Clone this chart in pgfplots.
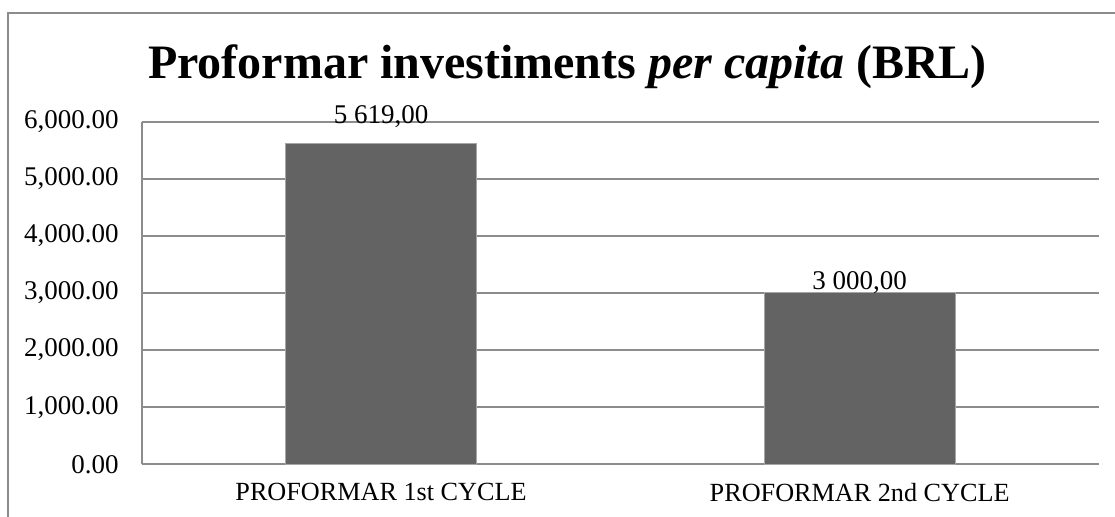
\documentclass[border=0pt]{standalone}
\usepackage{fontspec}
\setmainfont{Liberation Serif}
\usepackage{pgfplots}
\pgfplotsset{compat=1.18}
\definecolor{barfill}{HTML}{636363}
\definecolor{baredge}{HTML}{A6A6A6}
\definecolor{gridc}{HTML}{8C8C8C}
\begin{document}
\begin{tikzpicture}
\useasboundingbox (0,0) rectangle (557.5pt,-258.5pt);
\clip (0,0) rectangle (557.5pt,-258.5pt);
\fill[white] (0,0) rectangle (557.5pt,-258.5pt);
\draw[gridc, line width=0.8pt] (4pt,-300pt) -- (4pt,-6.5pt) -- (600pt,-6.5pt);
\node[anchor=base, font=\fontsize{24}{28}\selectfont\bfseries, inner sep=0pt] at (283.75pt,-39.5pt) {Proformar investiments \textit{per capita} (BRL)};
\begin{axis}[
  at={(70.85pt,-232.15pt)}, anchor=south west,
  scale only axis, width=478.65pt, height=171.3pt,
  xmin=-0.5, xmax=1.5, ymin=0, ymax=6000,
  ytick={0,1000,...,6000},
  xtick={0,1}, xticklabels={PROFORMAR 1st CYCLE, PROFORMAR 2nd CYCLE},
  axis x line=bottom, axis y line=left,
  axis line style={gridc, line width=0.8pt, -},
  ymajorgrids, grid style={gridc, line width=0.8pt},
  major tick length=0pt,
  /pgf/number format/assume math mode=true,
  yticklabel={\pgfmathprintnumber[fixed, fixed zerofill, precision=2, 1000 sep={,}]{\tick}},
  scaled y ticks=false,
  yticklabel style={font=\fontsize{13.5}{15}\selectfont, xshift=-8pt},
  xticklabel style={font=\fontsize{13.1}{15}\selectfont, yshift=-6pt},
  point meta=explicit symbolic,
  nodes near coords,
  nodes near coords style={font=\fontsize{13.5}{15}\selectfont, anchor=base, inner sep=0pt, yshift=1.5pt},
]
\addplot[ybar, bar width=95.5pt, fill=barfill, draw=baredge, line width=0.5pt]
  coordinates {(0,5619) [\raisebox{8.4pt}{5 619,00}] (1,3000) [3 000,00]};
\end{axis}
\end{tikzpicture}
\end{document}
